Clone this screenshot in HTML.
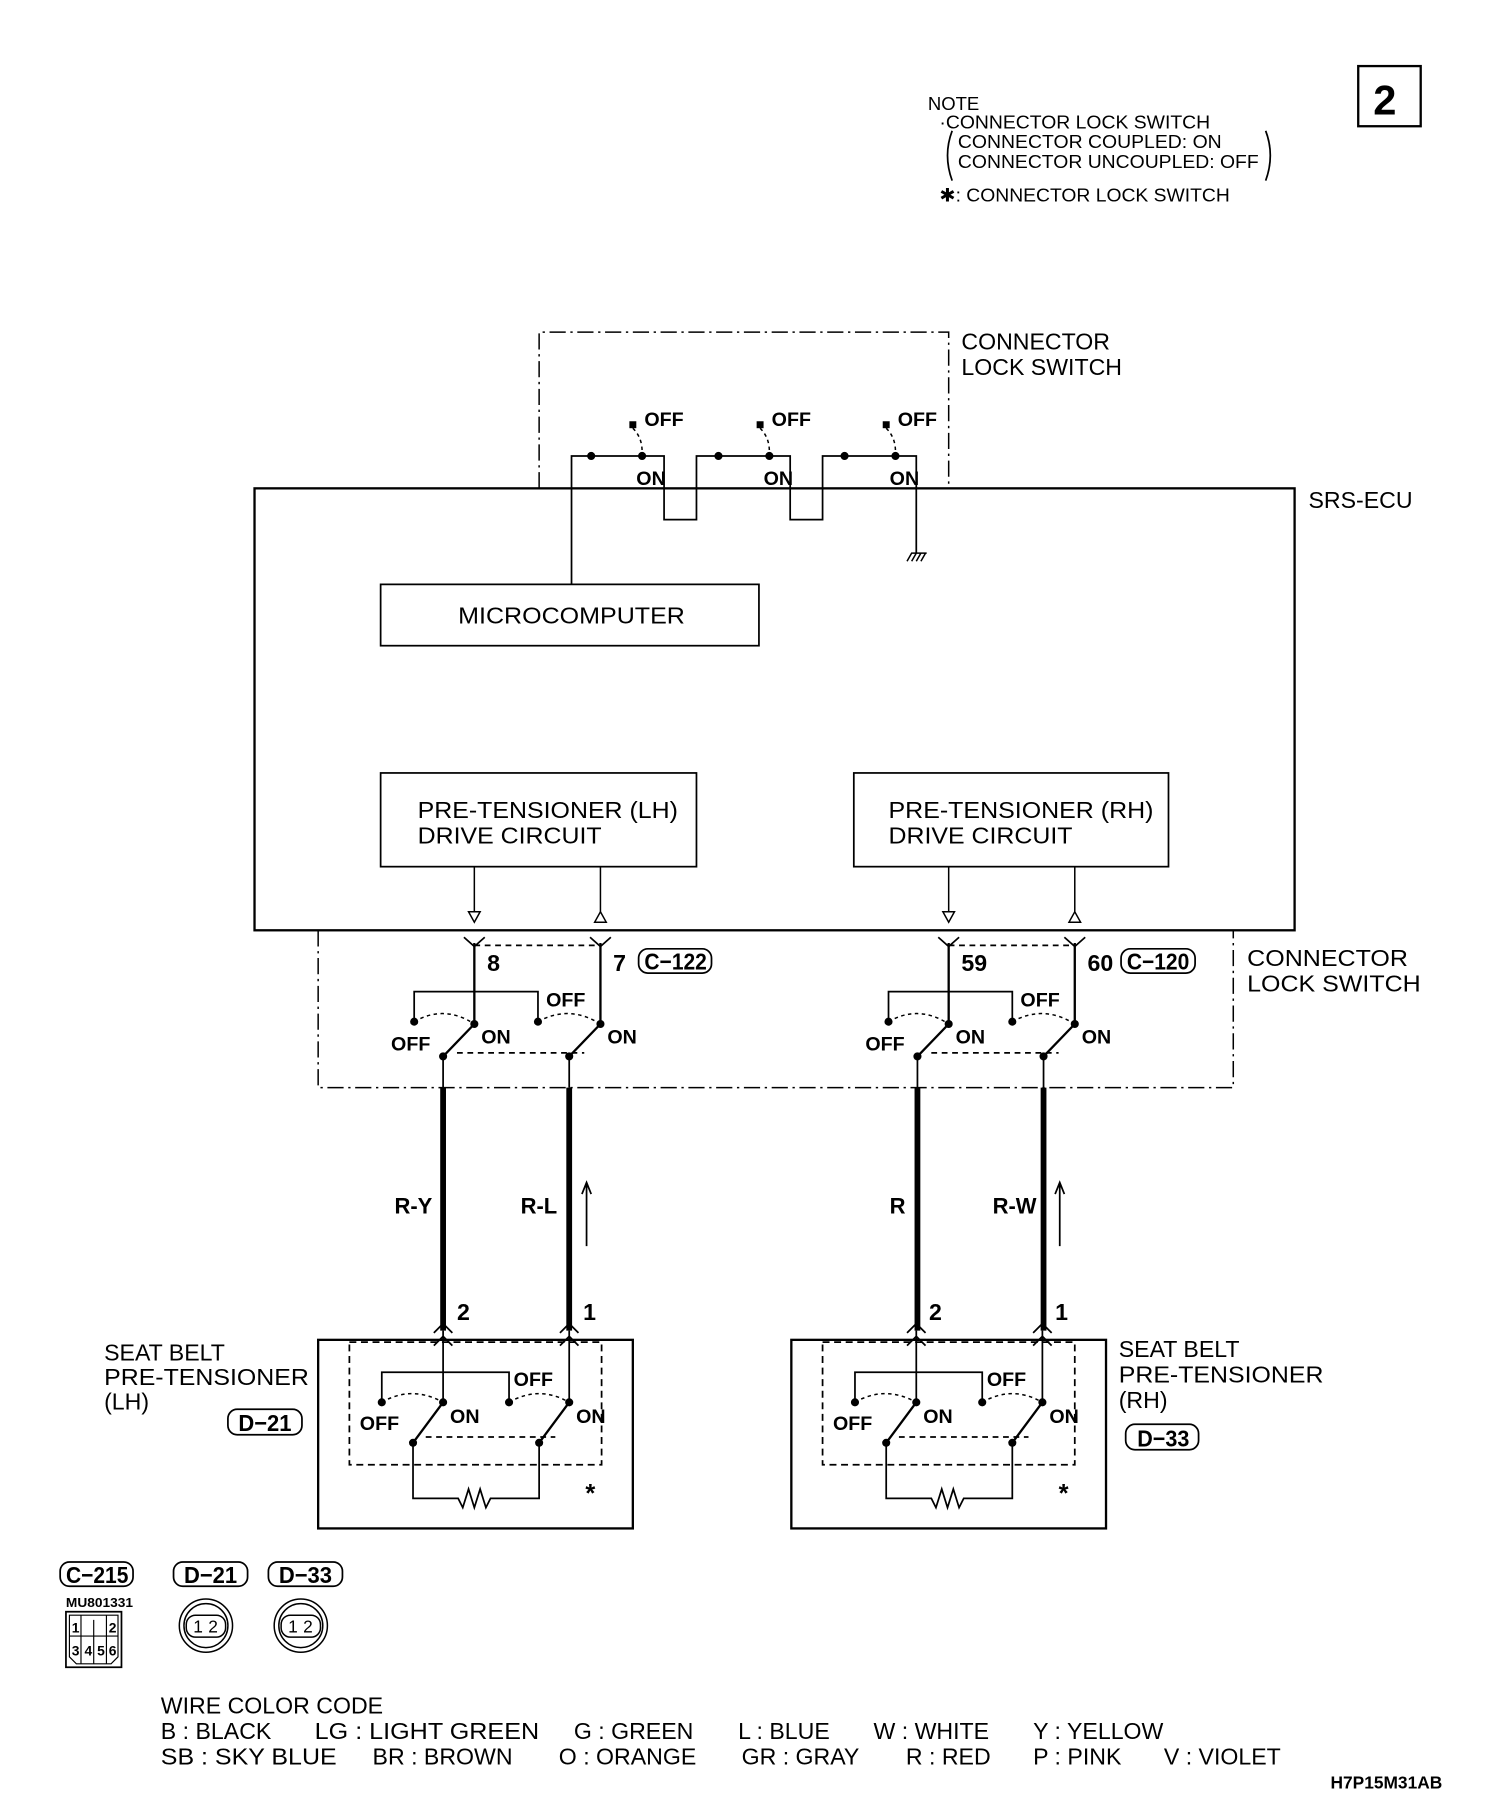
<!DOCTYPE html>
<html><head><meta charset="utf-8"><style>
html,body{margin:0;padding:0;background:#fff;}
svg{display:block;}
text{font-family:"Liberation Sans",sans-serif;fill:#000;}
.n{font-size:20px;}
.b{font-size:17px;font-weight:bold;}
.s{font-size:16px;}
</style></head><body>
<svg width="1504" height="1812" viewBox="0 0 1300 1566" xmlns="http://www.w3.org/2000/svg">
<defs>
<g id="sw">
 <path d="M410 815 V885 M519 815 V885" stroke="#000" stroke-width="2" fill="none"/>
 <path d="M401 810 L410 818 L419 810 M510 810 L519 818 L528 810" stroke="#000" stroke-width="1.5" fill="none"/>
 <line x1="410" y1="817" x2="519" y2="817" stroke="#000" stroke-width="1.5" stroke-dasharray="5,4"/>
 <path d="M410 857 H358 V883 M465 883 V857 H410" stroke="#000" stroke-width="1.5" fill="none"/>
 <path d="M358 883 Q384 868 410 885 M465 883 Q492 868 519 885" stroke="#000" stroke-width="1.3" fill="none" stroke-dasharray="3,3"/>
 <circle cx="358" cy="883" r="3.5"/><circle cx="465" cy="883" r="3.5"/>
 <circle cx="410" cy="885" r="3.5"/><circle cx="519" cy="885" r="3.5"/>
 <circle cx="383" cy="913" r="3.5"/><circle cx="492" cy="913" r="3.5"/>
 <path d="M383 913 L410 885 M492 913 L519 885" stroke="#000" stroke-width="2"/>
 <line x1="395" y1="910" x2="505" y2="910" stroke="#000" stroke-width="1.5" stroke-dasharray="5,4"/>
 <text x="472" y="870" class="b">OFF</text>
 <text x="338" y="908" class="b">OFF</text>
 <text x="416" y="902" class="b">ON</text>
 <text x="525" y="902" class="b">ON</text>
 <path d="M383 913 V940 M492 913 V940" stroke="#000" stroke-width="1.5"/>
 <path d="M383 940 V1150 M492 940 V1150" stroke="#000" stroke-width="5"/>
</g>
<g id="pt">
 <rect x="275" y="1158" width="272" height="163" fill="none" stroke="#000" stroke-width="2"/>
 <rect x="302" y="1160" width="218" height="106" fill="none" stroke="#000" stroke-width="1.5" stroke-dasharray="6,4"/>
 <path d="M375 1152 L383 1144 L391 1152 M375 1163 L383 1155 L391 1163 M484 1152 L492 1144 L500 1152 M484 1163 L492 1155 L500 1163" stroke="#000" stroke-width="1.5" fill="none"/>
 <path d="M383 1150 V1212 M492 1150 V1212" stroke="#000" stroke-width="1.5"/>
 <path d="M383 1186 H330 V1212 M440 1212 V1186 H383" stroke="#000" stroke-width="1.5" fill="none"/>
 <path d="M330 1212 Q356 1197 383 1212 M440 1212 Q466 1197 492 1212" stroke="#000" stroke-width="1.3" fill="none" stroke-dasharray="3,3"/>
 <circle cx="330" cy="1212" r="3.5"/><circle cx="440" cy="1212" r="3.5"/>
 <circle cx="383" cy="1212" r="3.5"/><circle cx="492" cy="1212" r="3.5"/>
 <circle cx="357" cy="1247" r="3.5"/><circle cx="466" cy="1247" r="3.5"/>
 <path d="M357 1247 L383 1212 M466 1247 L492 1212" stroke="#000" stroke-width="2"/>
 <line x1="368" y1="1242" x2="480" y2="1242" stroke="#000" stroke-width="1.5" stroke-dasharray="5,4"/>
 <path d="M357 1247 V1295 H396 L400 1303 L405 1287 L410 1303 L415 1287 L420 1303 L424 1295 H466 V1247" stroke="#000" stroke-width="1.5" fill="none"/>
 <text x="444" y="1198" class="b">OFF</text>
 <text x="311" y="1236" class="b">OFF</text>
 <text x="389" y="1230" class="b">ON</text>
 <text x="498" y="1230" class="b">ON</text>
 <text x="506" y="1298" style="font-size:22px;font-weight:bold">*</text>
</g>
</defs>

<rect x="1174" y="57" width="54" height="52" fill="none" stroke="#000" stroke-width="2"/>
<text x="1187" y="99" style="font-size:36px;font-weight:bold">2</text>
<text x="802" y="95" class="s">NOTE</text>
<text x="812" y="111" class="s" textLength="234" lengthAdjust="spacingAndGlyphs">·CONNECTOR LOCK SWITCH</text>
<text x="828" y="128" class="s" textLength="228" lengthAdjust="spacingAndGlyphs">CONNECTOR COUPLED: ON</text>
<text x="828" y="145" class="s" textLength="260" lengthAdjust="spacingAndGlyphs">CONNECTOR UNCOUPLED: OFF</text>
<path d="M823 113 Q815 134 823 156 M1094 113 Q1102 134 1094 156" stroke="#000" stroke-width="1.5" fill="none"/>
<text x="812" y="174" class="s" textLength="251" lengthAdjust="spacingAndGlyphs">✱: CONNECTOR LOCK SWITCH</text>

<path d="M466 422 V287 H820 V422" fill="none" stroke="#000" stroke-width="1.3" stroke-dasharray="14,4,2,4"/>
<text x="831" y="302" class="n">CONNECTOR</text>
<text x="831" y="324" class="n">LOCK SWITCH</text>
<path d="M494 505 V394 H574 V449 H602 V394 H683 V449 H711 V394 H792 V478" stroke="#000" stroke-width="1.5" fill="none"/>
<g>
<circle cx="511" cy="394" r="3.5"/><circle cx="555" cy="394" r="3.5"/><rect x="544" y="364" width="6" height="6"/>
<path d="M547 370 Q555 378 555 390" stroke="#000" stroke-width="1.3" fill="none" stroke-dasharray="3,3"/>
<circle cx="621" cy="394" r="3.5"/><circle cx="665" cy="394" r="3.5"/><rect x="654" y="364" width="6" height="6"/>
<path d="M657 370 Q665 378 665 390" stroke="#000" stroke-width="1.3" fill="none" stroke-dasharray="3,3"/>
<circle cx="730" cy="394" r="3.5"/><circle cx="774" cy="394" r="3.5"/><rect x="763" y="364" width="6" height="6"/>
<path d="M766 370 Q774 378 774 390" stroke="#000" stroke-width="1.3" fill="none" stroke-dasharray="3,3"/>
</g>
<text x="557" y="368" class="b">OFF</text><text x="667" y="368" class="b">OFF</text><text x="776" y="368" class="b">OFF</text>
<text x="550" y="419" class="b">ON</text><text x="660" y="419" class="b">ON</text><text x="769" y="419" class="b">ON</text>
<path d="M784 485 L788 478 H801 M788 485 L792 478 M792 485 L796 478 M796 485 L800 478" stroke="#000" stroke-width="1.3" fill="none"/>

<rect x="220" y="422" width="899" height="382" fill="none" stroke="#000" stroke-width="2"/>
<text x="1131" y="439" class="n">SRS-ECU</text>
<rect x="329" y="505" width="327" height="53" fill="none" stroke="#000" stroke-width="1.5"/>
<text x="396" y="539" class="n" textLength="196" lengthAdjust="spacingAndGlyphs">MICROCOMPUTER</text>
<rect x="329" y="668" width="273" height="81" fill="none" stroke="#000" stroke-width="1.5"/>
<text x="361" y="707" class="n" textLength="225" lengthAdjust="spacingAndGlyphs">PRE-TENSIONER (LH)</text>
<text x="361" y="729" class="n" textLength="159" lengthAdjust="spacingAndGlyphs">DRIVE CIRCUIT</text>
<rect x="738" y="668" width="272" height="81" fill="none" stroke="#000" stroke-width="1.5"/>
<text x="768" y="707" class="n" textLength="229" lengthAdjust="spacingAndGlyphs">PRE-TENSIONER (RH)</text>
<text x="768" y="729" class="n" textLength="159" lengthAdjust="spacingAndGlyphs">DRIVE CIRCUIT</text>
<path d="M410 749 V788 M519 749 V788 M820 749 V788 M929 749 V788" stroke="#000" stroke-width="1.3"/>
<path d="M405 788 H415 L410 797 Z M825 788 H815 L820 797 Z M514 797 H524 L519 788 Z M924 797 H934 L929 788 Z" fill="#fff" stroke="#000" stroke-width="1.3"/>

<path d="M275 804 V940 H1066 V804" fill="none" stroke="#000" stroke-width="1.3" stroke-dasharray="14,4,2,4"/>
<text x="1078" y="835" class="n" textLength="139" lengthAdjust="spacingAndGlyphs">CONNECTOR</text>
<text x="1078" y="857" class="n" textLength="150" lengthAdjust="spacingAndGlyphs">LOCK SWITCH</text>
<use href="#sw"/>
<use href="#sw" transform="translate(410,0)"/>
<text x="421" y="839" class="n" style="font-weight:bold">8</text>
<text x="530" y="839" class="n" style="font-weight:bold">7</text>
<rect x="552" y="820" width="63" height="21" rx="8" fill="none" stroke="#000" stroke-width="1.5"/>
<text x="557" y="838" class="n" style="font-weight:bold" textLength="54" lengthAdjust="spacingAndGlyphs">C−122</text>
<text x="831" y="839" class="n" style="font-weight:bold">59</text>
<text x="940" y="839" class="n" style="font-weight:bold">60</text>
<rect x="969" y="820" width="64" height="21" rx="8" fill="none" stroke="#000" stroke-width="1.5"/>
<text x="974" y="838" class="n" style="font-weight:bold" textLength="54" lengthAdjust="spacingAndGlyphs">C−120</text>

<text x="341" y="1049" class="b" style="font-size:19px">R-Y</text>
<text x="450" y="1049" class="b" style="font-size:19px">R-L</text>
<text x="769" y="1049" class="b" style="font-size:19px">R</text>
<text x="858" y="1049" class="b" style="font-size:19px">R-W</text>
<path d="M507 1077 V1024 M503 1032 L507 1022 L511 1032 M916 1077 V1024 M912 1032 L916 1022 L920 1032" stroke="#000" stroke-width="1.5" fill="none"/>
<text x="395" y="1141" class="b" style="font-size:20px">2</text>
<text x="504" y="1141" class="b" style="font-size:20px">1</text>
<text x="803" y="1141" class="b" style="font-size:20px">2</text>
<text x="912" y="1141" class="b" style="font-size:20px">1</text>

<use href="#pt"/>
<use href="#pt" transform="translate(409,0)"/>
<text x="90" y="1176" class="n">SEAT BELT</text>
<text x="90" y="1197" class="n" textLength="177" lengthAdjust="spacingAndGlyphs">PRE-TENSIONER</text>
<text x="90" y="1218" class="n">(LH)</text>
<rect x="197" y="1218" width="64" height="22" rx="8" fill="none" stroke="#000" stroke-width="1.5"/>
<text x="206" y="1237" class="n" style="font-weight:bold" textLength="46" lengthAdjust="spacingAndGlyphs">D−21</text>
<text x="967" y="1173" class="n">SEAT BELT</text>
<text x="967" y="1195" class="n" textLength="177" lengthAdjust="spacingAndGlyphs">PRE-TENSIONER</text>
<text x="967" y="1217" class="n">(RH)</text>
<rect x="973" y="1231" width="63" height="22" rx="8" fill="none" stroke="#000" stroke-width="1.5"/>
<text x="983" y="1250" class="n" style="font-weight:bold" textLength="45" lengthAdjust="spacingAndGlyphs">D−33</text>

<rect x="52" y="1350" width="63" height="21" rx="8" fill="none" stroke="#000" stroke-width="1.5"/>
<text x="57" y="1368" class="n" style="font-weight:bold" textLength="54" lengthAdjust="spacingAndGlyphs">C−215</text>
<rect x="150" y="1350" width="64" height="21" rx="8" fill="none" stroke="#000" stroke-width="1.5"/>
<text x="159" y="1368" class="n" style="font-weight:bold" textLength="46" lengthAdjust="spacingAndGlyphs">D−21</text>
<rect x="232" y="1350" width="64" height="21" rx="8" fill="none" stroke="#000" stroke-width="1.5"/>
<text x="241" y="1368" class="n" style="font-weight:bold" textLength="46" lengthAdjust="spacingAndGlyphs">D−33</text>
<text x="57" y="1389" style="font-size:11px;font-weight:bold" textLength="58" lengthAdjust="spacingAndGlyphs">MU801331</text>
<rect x="57" y="1393" width="48" height="48" fill="none" stroke="#000" stroke-width="1.5"/>
<path d="M60 1396 H102 V1432 L96 1438 H66 L60 1432 Z M60 1414 H102 M70 1414 V1438 M81 1414 V1438 M92 1414 V1438 M70 1396 V1414 M92 1396 V1414 M81 1400 V1414" fill="none" stroke="#000" stroke-width="1"/>
<text x="62" y="1411" style="font-size:12px;font-weight:bold">1</text><text x="94" y="1411" style="font-size:12px;font-weight:bold">2</text>
<text x="62" y="1431" style="font-size:12px;font-weight:bold">3</text><text x="73" y="1431" style="font-size:12px;font-weight:bold">4</text>
<text x="84" y="1431" style="font-size:12px;font-weight:bold">5</text>
<text x="94" y="1431" style="font-size:12px;font-weight:bold">6</text>
<g fill="none" stroke="#000" stroke-width="1.3">
<circle cx="178" cy="1405" r="23"/><circle cx="178" cy="1405" r="19"/>
<rect x="161" y="1396" width="34" height="19" rx="8"/>
<circle cx="260" cy="1405" r="23"/><circle cx="260" cy="1405" r="19"/>
<rect x="243" y="1396" width="34" height="19" rx="8"/>
</g>
<text x="167" y="1411" style="font-size:15px">1</text><text x="180" y="1411" style="font-size:15px">2</text>
<text x="249" y="1411" style="font-size:15px">1</text><text x="262" y="1411" style="font-size:15px">2</text>

<text x="139" y="1481" class="n">WIRE COLOR CODE</text>
<g class="n">
<text x="139" y="1503" class="n">B : BLACK</text>
<text x="272" y="1503" class="n" textLength="194" lengthAdjust="spacingAndGlyphs">LG : LIGHT GREEN</text>
<text x="496" y="1503" class="n">G : GREEN</text>
<text x="638" y="1503" class="n">L : BLUE</text>
<text x="755" y="1503" class="n">W : WHITE</text>
<text x="893" y="1503" class="n">Y : YELLOW</text>
<text x="139" y="1525" class="n" textLength="152" lengthAdjust="spacingAndGlyphs">SB : SKY BLUE</text>
<text x="322" y="1525" class="n">BR : BROWN</text>
<text x="483" y="1525" class="n">O : ORANGE</text>
<text x="641" y="1525" class="n">GR : GRAY</text>
<text x="783" y="1525" class="n">R : RED</text>
<text x="893" y="1525" class="n">P : PINK</text>
<text x="1006" y="1525" class="n">V : VIOLET</text>
</g>
<text x="1150" y="1546" style="font-size:15px;font-weight:bold">H7P15M31AB</text>
</svg>
</body></html>
